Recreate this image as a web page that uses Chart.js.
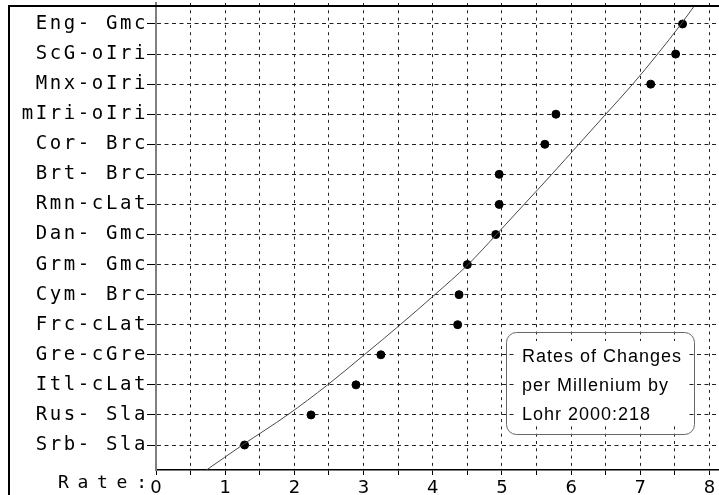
<!DOCTYPE html>
<html>
<head>
<meta charset="utf-8">
<script src="https://cdn.jsdelivr.net/npm/chart.js@4/dist/chart.umd.min.js"></script>
<style>
  html, body { margin: 0; padding: 0; background: #fff; }
  #wrap { width: 719px; height: 495px; }
</style>
</head>
<body>
<div id="wrap"><canvas id="c" width="719" height="495"></canvas></div>
<script>
// ---- data ----
const categories = ['Srb- Sla','Rus- Sla','Itl-cLat','Gre-cGre','Frc-cLat','Cym- Brc','Grm- Gmc','Dan- Gmc','Rmn-cLat','Brt- Brc','Cor- Brc','mIri-oIri','Mnx-oIri','ScG-oIri','Eng- Gmc'];
const rates = [1.28, 2.24, 2.89, 3.25, 4.36, 4.38, 4.50, 4.91, 4.96, 4.96, 5.62, 5.78, 7.15, 7.51, 7.61];
// trend curve: row position and rate
const curveRow  = [-0.83, 0, 1, 2, 3, 4, 5, 6, 7, 8, 9, 10, 11, 12, 13, 14, 14.6];
const curveRate = [0.73, 1.25, 1.90, 2.48, 3.01, 3.53, 4.03, 4.51, 4.92, 5.32, 5.72, 6.11, 6.50, 6.89, 7.25, 7.59, 7.78];
const xTickValues = [0, 0.5, 1, 1.5, 2, 2.5, 3, 3.5, 4, 4.5, 5, 5.5, 6, 6.5, 7, 7.5, 8];
const axisLabel = 'Rate:';
const noteLines = ['Rates of Changes', 'per Millenium by', 'Lohr 2000:218'];

const points = rates.map((r, i) => ({ x: r, y: i }));
const curve = curveRate.map((r, i) => ({ x: r, y: curveRow[i] }));

const decor = {
  id: 'decor',
  beforeElementsUpdate(chart) {
    chart.data.datasets.forEach((d, i) => {
      const c = chart.getDatasetMeta(i).controller;
      if (c) c.getMaxOverflow = () => 0;
    });
  },
  afterUpdate(chart) {
    const s = chart.scales.y;
    if (!s._lsWrapped) {
      const orig = s.drawLabels.bind(s);
      s.drawLabels = function (area) {
        const ctx = this.ctx;
        ctx.save();
        ctx.letterSpacing = '2.6px';
        orig(area);
        ctx.restore();
      };
      s._lsWrapped = true;
    }
  },
  afterDraw(chart) {
    const ctx = chart.ctx;
    ctx.save();
    // outer frame (left + top)
    ctx.strokeStyle = '#000';
    ctx.lineWidth = 2;
    ctx.beginPath();
    ctx.moveTo(9, 495);
    ctx.lineTo(9, 6);
    ctx.lineTo(719, 6);
    ctx.stroke();

    // axis label "Rate:"
    ctx.fillStyle = '#000';
    ctx.font = '18px "DejaVu Sans Mono"';
    ctx.letterSpacing = '8.7px';
    ctx.textAlign = 'left';
    ctx.textBaseline = 'alphabetic';
    ctx.fillText(axisLabel, 58, 488);

    // note box
    ctx.letterSpacing = '0px';
    ctx.fillStyle = '#fff';
    ctx.fillRect(514, 341, 173, 83);
    ctx.strokeStyle = '#666';
    ctx.lineWidth = 1;
    ctx.beginPath();
    ctx.roundRect(506.5, 332.5, 188, 102, 10);
    ctx.stroke();
    ctx.fillStyle = '#000';
    ctx.font = '18px "Liberation Sans", Arial, sans-serif';
    ctx.letterSpacing = '1px';
    const base = [362, 391, 419.5];
    noteLines.forEach((t, i) => ctx.fillText(t, 522, base[i]));
    ctx.restore();
  }
};

new Chart(document.getElementById('c'), {
  type: 'scatter',
  data: {
    datasets: [
      {
        type: 'line',
        data: curve,
        borderColor: '#4a4a4a',
        borderWidth: 1,
        pointRadius: 0,
        cubicInterpolationMode: 'monotone',
        fill: false
      },
      {
        data: points,
        backgroundColor: '#000',
        borderColor: '#000',
        pointRadius: 4,
        pointHoverRadius: 4
      }
    ]
  },
  options: {
    responsive: false,
    animation: false,
    events: [],
    layout: { padding: { left: 0, right: 0, top: 3, bottom: 0 } },
    plugins: { legend: { display: false }, tooltip: { enabled: false }, title: { display: false } },
    scales: {
      x: {
        type: 'linear',
        min: 0,
        max: 8.137,
        afterBuildTicks: (s) => { s.ticks = xTickValues.map(v => ({ value: v })); },
        afterFit: (s) => { s.height = 25; s.paddingLeft = 0; s.paddingRight = 0; },
        grid: { color: '#222', lineWidth: 1, drawTicks: true, tickLength: 5, tickColor: '#000', tickWidth: 1 },
        border: { display: true, color: '#000', width: 1.5, dash: [3, 4.3] },
        ticks: {
          autoSkip: false,
          maxRotation: 0,
          padding: 3,
          color: '#000',
          font: { family: 'DejaVu Sans', size: 18 },
          callback: (v) => Number.isInteger(v) ? String(v) : ''
        }
      },
      y: {
        type: 'linear',
        min: -0.831,
        max: 14.698,
        afterBuildTicks: (s) => { s.ticks = categories.map((c, i) => ({ value: i })); },
        afterFit: (s) => { s.width = 156; s.paddingTop = 0; s.paddingBottom = 0; },
        grid: { color: '#222', lineWidth: 1, drawTicks: true, tickLength: 9, tickColor: '#000', tickWidth: 1 },
        border: { display: true, color: '#808080', width: 2, dash: [4, 3.5] },
        ticks: {
          autoSkip: false,
          padding: -1,
          color: '#000',
          font: { family: 'DejaVu Sans Mono', size: 19 },
          callback: (v) => categories[v] !== undefined ? categories[v] : ''
        }
      }
    }
  },
  plugins: [decor]
});
</script>
</body>
</html>
